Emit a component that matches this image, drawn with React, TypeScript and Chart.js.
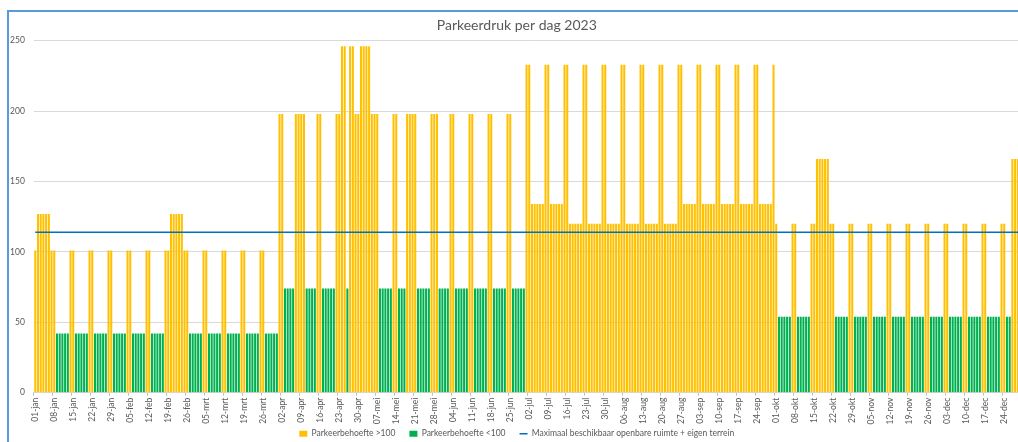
import React, { useEffect, useRef } from 'react';
import { Chart, registerables } from 'chart.js';

Chart.register(...registerables);

// ---- Categories (days of 2023) ----
const monthNames = ['jan', 'feb', 'mrt', 'apr', 'mei', 'jun', 'jul', 'aug', 'sep', 'okt', 'nov', 'dec'];
const monthDays = [31, 28, 31, 30, 31, 30, 31, 31, 30, 31, 30, 31];

// ---- Daily parking demand ----
const janValues = [101, 127, 127, 127, 127, 127, 101, 101, 42, 42, 42, 42, 42, 101, 101, 42, 42, 42, 42, 42, 101, 101, 42, 42, 42, 42, 42, 101, 101, 42, 42];
const febValues = [42, 42, 42, 101, 101, 42, 42, 42, 42, 42, 101, 101, 42, 42, 42, 42, 42, 101, 101, 127, 127, 127, 127, 127, 101, 101, 42, 42];
const mrtValues = [42, 42, 42, 101, 101, 42, 42, 42, 42, 42, 101, 101, 42, 42, 42, 42, 42, 101, 101, 42, 42, 42, 42, 42, 101, 101, 42, 42, 42, 42, 42];
const aprValues = [198, 198, 74, 74, 74, 74, 198, 198, 198, 198, 74, 74, 74, 74, 198, 198, 74, 74, 74, 74, 74, 198, 198, 246, 246, 74, 246, 246, 198, 198];
const meiValues = [246, 246, 246, 246, 198, 198, 198, 74, 74, 74, 74, 74, 198, 198, 74, 74, 74, 198, 198, 198, 198, 74, 74, 74, 74, 74, 198, 198, 198, 74, 74];
const junValues = [74, 74, 198, 198, 74, 74, 74, 74, 74, 198, 198, 74, 74, 74, 74, 74, 198, 198, 74, 74, 74, 74, 74, 198, 198, 74, 74, 74, 74, 74];
const julValues = [233, 233, 134, 134, 134, 134, 134, 233, 233, 134, 134, 134, 134, 134, 233, 233, 120, 120, 120, 120, 120, 233, 233, 120, 120, 120, 120, 120, 233, 233, 120];
const augValues = [120, 120, 120, 120, 233, 233, 120, 120, 120, 120, 120, 233, 233, 120, 120, 120, 120, 120, 233, 233, 120, 120, 120, 120, 120, 233, 233, 134, 134, 134, 134];
const sepValues = [134, 233, 233, 134, 134, 134, 134, 134, 233, 233, 134, 134, 134, 134, 134, 233, 233, 134, 134, 134, 134, 134, 233, 233, 134, 134, 134, 134, 134, 233];
const oktValues = [120, 54, 54, 54, 54, 54, 120, 120, 54, 54, 54, 54, 54, 120, 120, 166, 166, 166, 166, 166, 120, 120, 54, 54, 54, 54, 54, 120, 120, 54, 54];
const novValues = [54, 54, 54, 120, 120, 54, 54, 54, 54, 54, 120, 120, 54, 54, 54, 54, 54, 120, 120, 54, 54, 54, 54, 54, 120, 120, 54, 54, 54, 54];
const decValues = [54, 120, 120, 54, 54, 54, 54, 54, 120, 120, 54, 54, 54, 54, 54, 120, 120, 54, 54, 54, 54, 54, 120, 120, 54, 54, 166, 166, 166, 120, 120];

// Maximum available capacity (horizontal reference line)
const MAX_CAPACITY = 114;

const TITLE = 'Parkeerdruk per dag 2023';
const LABEL_HIGH = 'Parkeerbehoefte >100';
const LABEL_LOW = 'Parkeerbehoefte <100';
const LABEL_LINE = 'Maximaal beschikbaar openbare ruimte + eigen terrein';

// ---- Derived tables for the library ----
const dailyValues: number[] = [
  ...janValues, ...febValues, ...mrtValues, ...aprValues, ...meiValues, ...junValues,
  ...julValues, ...augValues, ...sepValues, ...oktValues, ...novValues, ...decValues,
];
const dayLabels: string[] = [];
monthNames.forEach((m, mi) => {
  for (let d = 1; d <= monthDays[mi]; d++) dayLabels.push(String(d).padStart(2, '0') + '-' + m);
});
const highSeries = dailyValues.map((v) => (v > 100 ? v : null));
const lowSeries = dailyValues.map((v) => (v < 100 ? v : null));
const capacitySeries = dayLabels.map(() => MAX_CAPACITY);

const GREY_TEXT = '#595959';
const GRID = '#D9D9D9';
const FONT = 'Lato';

export default function App() {
  const ref = useRef<HTMLCanvasElement>(null);

  useEffect(() => {
    if (!ref.current) return;
    const chart = new Chart(ref.current, {
      type: 'bar',
      data: {
        labels: dayLabels,
        datasets: [
          {
            type: 'bar',
            label: LABEL_HIGH,
            data: highSeries,
            backgroundColor: '#FFC000',
            borderWidth: 0,
            grouped: false,
            barPercentage: 0.75,
            categoryPercentage: 1,
            order: 1,
          } as any,
          {
            type: 'bar',
            label: LABEL_LOW,
            data: lowSeries,
            backgroundColor: '#00B050',
            borderWidth: 0,
            grouped: false,
            barPercentage: 0.75,
            categoryPercentage: 1,
            order: 1,
          } as any,
          {
            type: 'line',
            label: LABEL_LINE,
            data: capacitySeries,
            borderColor: '#0070C0',
            backgroundColor: '#0070C0',
            borderWidth: 1.5,
            pointRadius: 0,
            fill: false,
            order: -1,
          } as any,
        ],
      },
      options: {
        responsive: false,
        animation: false,
        devicePixelRatio: 1,
        font: { family: FONT } as any,
        layout: { padding: { left: 0, right: 2.4, top: 0, bottom: 0 } },
        plugins: {
          title: {
            display: true,
            text: TITLE,
            color: GREY_TEXT,
            font: { family: FONT, size: 14, weight: 'normal' },
            padding: { top: 4.6, bottom: 7.3 },
          },
          legend: {
            position: 'bottom',
            labels: {
              usePointStyle: true,
              pointStyleWidth: 8,
              boxHeight: 6,
              color: GREY_TEXT,
              font: { family: FONT, size: 8.5 },
              padding: 14,
              sort: (a: any, b: any) => a.datasetIndex - b.datasetIndex,
              generateLabels: (c: any) => {
                const items = (Chart.defaults.plugins.legend.labels as any).generateLabels(c);
                return items.map((it: any) =>
                  it.datasetIndex === 2
                    ? { ...it, pointStyle: 'line', lineWidth: 1.5, strokeStyle: '#0070C0' }
                    : { ...it, pointStyle: 'rect', lineWidth: 0 }
                );
              },
            },
          },
          tooltip: { enabled: false },
        },
        scales: {
          x: {
            type: 'category',
            offset: true,
            grid: {
              offset: true,
              drawOnChartArea: false,
              drawTicks: true,
              tickLength: 3,
              color: (c: any) => (typeof c.index === 'number' && c.index % 7 === 0 ? '#BFBFBF' : 'rgba(0,0,0,0)'),
            },
            border: { display: true, color: GRID },
            ticks: {
              autoSkip: false,
              minRotation: 90,
              maxRotation: 90,
              padding: 2,
              color: GREY_TEXT,
              font: { family: FONT, size: 8.5 },
              callback: (_v: any, i: number) => (i % 7 === 0 ? dayLabels[i] : ''),
            },
            afterFit: (s: any) => {
              s.height = 22.8;
              s.paddingLeft = 0;
              s.paddingRight = 0;
              // let the rotated labels extend below the (small) axis box without clipping
              s._computeLabelArea = () => undefined;
            },
          },
          y: {
            min: 0,
            max: 250,
            ticks: {
              stepSize: 50,
              padding: 9,
              color: GREY_TEXT,
              font: { family: FONT, size: 8.5 },
            },
            grid: { color: GRID, drawTicks: false },
            border: { display: false },
            afterFit: (s: any) => {
              s.width = 24.9;
              s.paddingTop = 0;
              s.paddingBottom = 0;
            },
          },
        },
      } as any,
    });
    return () => chart.destroy();
  }, []);

  return (
    <div
      style={{
        position: 'fixed',
        left: 0,
        top: 0,
        width: 1018,
        height: 442,
        overflow: 'hidden',
        background: '#ffffff',
      }}
    >
      <div
        style={{
          position: 'absolute',
          left: 7,
          top: 10,
          width: 1100,
          height: 500,
          borderLeft: '2px solid #5B9BD5',
          borderTop: '2px solid #5B9BD5',
          boxSizing: 'border-box',
        }}
      />
      <canvas
        ref={ref}
        width={1018}
        height={436}
        style={{ position: 'absolute', left: 9, top: 12, width: 1018, height: 436 }}
      />
    </div>
  );
}
